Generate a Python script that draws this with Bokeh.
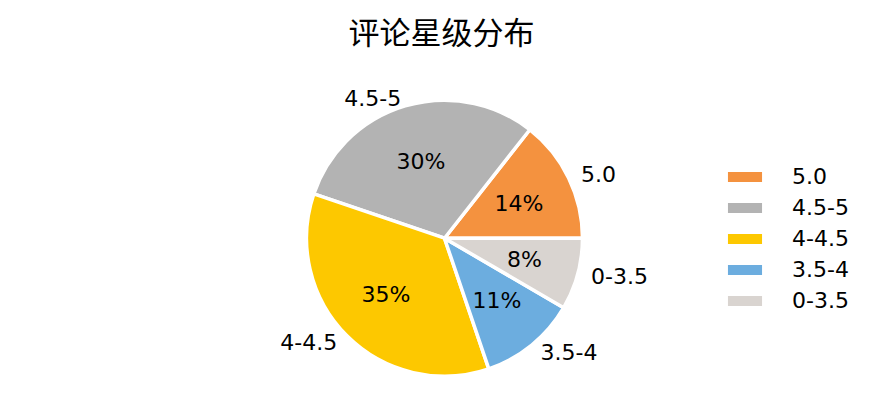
import math
from bokeh.plotting import figure
from bokeh.models import Range1d, ColumnDataSource, Legend, LegendItem
from bokeh.core.properties import value
from bokeh.embed import file_html
from bokeh.resources import INLINE

title = "评论星级分布"
categories = ["5.0", "4.5-5", "4-4.5", "3.5-4", "0-3.5"]
shares = [14.4, 30.4, 35.4, 11.4, 8.4]
colors = ["#F4923F", "#B3B3B3", "#FDC800", "#6CADDF", "#D9D4D0"]

R = 138
W, H = 872, 402
p = figure(width=W, height=H, toolbar_location=None, output_backend="svg",
           x_range=Range1d(-444, 428), y_range=Range1d(-170, 187),
           min_border=0, outline_line_color=None)
p.axis.visible = False
p.grid.visible = False
p.title.text = title
p.title.align = "left"
p.title.text_font = "Noto Sans CJK SC"
p.title.text_font_size = "31px"
p.title.text_font_style = "normal"
p.title.text_color = "#000000"
p.title.offset = 348

total = sum(shares)
starts, ends = [], []
a = 0.0
for s in shares:
    starts.append(a)
    a += s / total * 2 * math.pi
    ends.append(a)
mids = [(s + e) / 2 for s, e in zip(starts, ends)]

src = ColumnDataSource(dict(cat=categories, start=starts, end=ends, color=colors))
r = p.wedge(x=0, y=0, radius=R, start_angle="start", end_angle="end", direction="anticlock",
            fill_color="color", line_color="white", line_width=3.5, source=src)

pct_src = ColumnDataSource(dict(
    x=[0.6 * R * math.cos(m) for m in mids],
    y=[0.6 * R * math.sin(m) for m in mids],
    t=["%d%%" % round(s / total * 100) for s in shares]))
p.text(x="x", y="y", text="t", source=pct_src, text_align="center", text_baseline="middle",
       text_font=value("DejaVu Sans"), text_font_size="22px", text_color="#000000")

lx = [1.1 * R * math.cos(m) for m in mids]
ly = [1.1 * R * math.sin(m) for m in mids]
al = ["left" if math.cos(m) > 0 else "right" for m in mids]
lab_src = ColumnDataSource(dict(x=lx, y=ly, t=categories, a=al))
p.text(x="x", y="y", text="t", source=lab_src, text_align="a", text_baseline="middle",
       text_font=value("DejaVu Sans"), text_font_size="22px", text_color="#000000")

items = [LegendItem(label=c, renderers=[r], index=i) for i, c in enumerate(categories)]
legend = Legend(items=items, location=(721, 89), glyph_width=47, glyph_height=17,
                label_text_font="DejaVu Sans", label_text_font_size="22px",
                label_text_color="#000000",
                label_height=20, spacing=6, padding=0, margin=0, label_standoff=24,
                border_line_color=None, background_fill_alpha=0)
p.add_layout(legend, "center")

open("out.html", "w").write(file_html(p, INLINE))
